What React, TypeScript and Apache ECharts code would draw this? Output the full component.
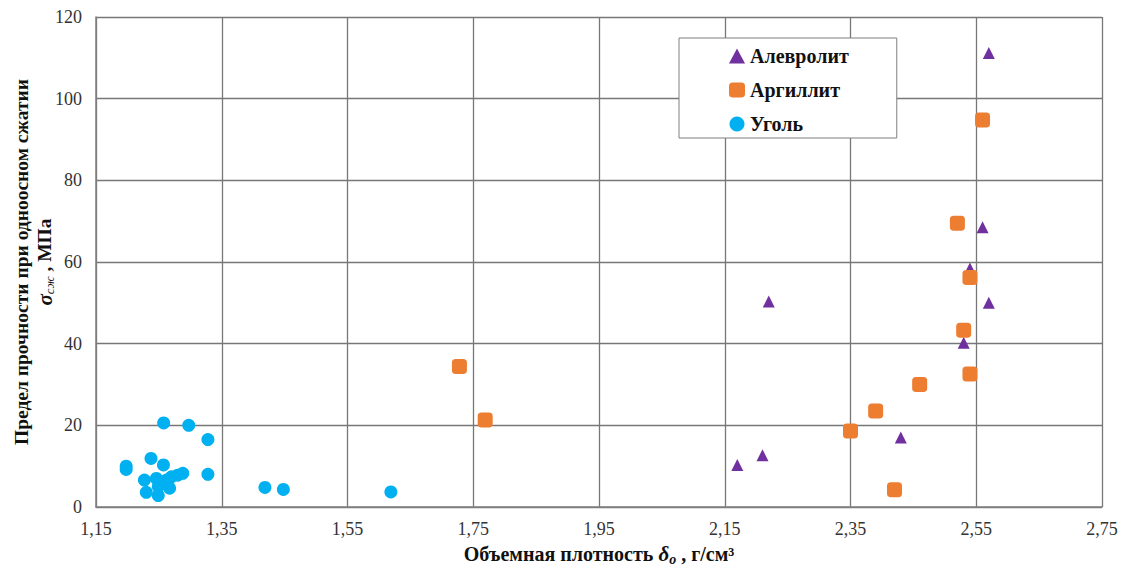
import React, { useEffect, useRef } from "react";
import * as echarts from "echarts";

const xTicks = { min: 1.15, max: 2.75, interval: 0.2 };
const yTicks = { min: 0, max: 120, interval: 20 };

const seriesNames = ["Алевролит", "Аргиллит", "Уголь"];

const aleurolite: [number, number][] = [
  [2.22, 50.3], [2.17, 10.3], [2.21, 12.7], [2.43, 17.0], [2.53, 40.2],
  [2.54, 58.4], [2.57, 50.0], [2.56, 68.5], [2.57, 111.2],
];

const argillite: [number, number][] = [
  [1.728, 34.4], [1.769, 21.3], [2.35, 18.6], [2.39, 23.5], [2.42, 4.2],
  [2.46, 30.0], [2.53, 43.3], [2.54, 32.6], [2.54, 56.2], [2.52, 69.5], [2.56, 94.8],
];

const coal: [number, number][] = [
  [1.198, 10.0], [1.198, 9.2], [1.2375, 11.9], [1.2573, 10.3], [1.328, 8.0],
  [1.328, 16.5], [1.2576, 20.6], [1.2975, 20.0], [1.288, 8.25], [1.28, 7.8],
  [1.27, 7.4], [1.262, 6.6], [1.246, 7.0], [1.227, 6.6], [1.23, 3.6],
  [1.249, 2.8], [1.249, 5.0], [1.267, 4.6], [1.256, 5.8],
  [1.4187, 4.8], [1.448, 4.3], [1.619, 3.7],
];

const colors = ["#7030A0", "#ED7D31", "#00B0F0"];

const fmt = (v: number) => v.toFixed(2).replace(".", ",");

export default function App() {
  const ref = useRef<HTMLDivElement>(null);
  useEffect(() => {
    document.body.style.margin = "0";
    const chart = echarts.init(ref.current!, undefined, { renderer: "svg" });
    const font = "'Liberation Serif', 'Times New Roman', serif";
    chart.setOption({
      animation: false,
      backgroundColor: "#fff",
      textStyle: { fontFamily: font },
      grid: { left: 96, right: 20, top: 17, bottom: 65, outerBoundsMode: "none", containLabel: false },
      legend: {
        orient: "vertical",
        left: 679,
        top: 38,
        padding: [8, 48, 4, 50],
        itemGap: 14,
        itemWidth: 16,
        itemHeight: 15,
        backgroundColor: "#fff",
        borderColor: "#7f7f7f",
        borderWidth: 1,
        borderRadius: 0,
        textStyle: { fontFamily: font, fontSize: 20, fontWeight: "bold", color: "#111" },
        data: [
          { name: seriesNames[0], icon: "triangle", itemStyle: { color: colors[0], opacity: 1 } },
          { name: seriesNames[1], icon: "roundRect", itemStyle: { color: colors[1], opacity: 1 } },
          { name: seriesNames[2], icon: "circle", itemStyle: { color: colors[2], opacity: 1 } },
        ],
      },
      xAxis: {
        type: "value",
        min: xTicks.min,
        max: xTicks.max,
        interval: xTicks.interval,
        name: "{b|Объемная плотность }{i|δ}{sub|o}{b| , г/см³}",
        nameLocation: "middle",
        nameGap: 35,
        nameMoveOverlap: false,
        nameTextStyle: {
          rich: {
            b: { fontFamily: font, fontSize: 20, fontWeight: "bold", color: "#111", lineHeight: 24 },
            i: { fontFamily: font, fontSize: 21, fontWeight: "bold", fontStyle: "italic", color: "#111", lineHeight: 24 },
            sub: { fontFamily: font, fontSize: 14, fontWeight: "bold", fontStyle: "italic", color: "#111", lineHeight: 14, verticalAlign: "bottom" },
          },
        },
        axisLine: { show: true, lineStyle: { color: "#7f7f7f", width: 1.5 } },
        axisTick: { show: false },
        axisLabel: { formatter: fmt, fontFamily: font, fontSize: 18, color: "#333", margin: 13 },
        splitLine: { show: true, lineStyle: { color: "#777", width: 1.3 } },
      },
      yAxis: {
        type: "value",
        min: yTicks.min,
        max: yTicks.max,
        interval: yTicks.interval,
        name: "{b|Предел прочности при одноосном сжатии}\n{i|σ}{sub|сж}{b| , МПа}",
        nameLocation: "middle",
        nameGap: 40,
        nameMoveOverlap: false,
        nameRotate: 90,
        nameTextStyle: {
          align: "center",
          rich: {
            b: { fontFamily: font, fontSize: 19.5, fontWeight: "bold", color: "#111", lineHeight: 23 },
            i: { fontFamily: font, fontSize: 21, fontWeight: "bold", fontStyle: "italic", color: "#111", lineHeight: 23 },
            sub: { fontFamily: font, fontSize: 13, fontStyle: "italic", color: "#111", lineHeight: 23, verticalAlign: "bottom" },
          },
        },
        axisLine: { show: true, lineStyle: { color: "#7f7f7f", width: 1.5 } },
        axisTick: { show: false },
        axisLabel: { fontFamily: font, fontSize: 18, color: "#333", margin: 14 },
        splitLine: { show: true, lineStyle: { color: "#777", width: 1.3 } },
      },
      series: [
        {
          name: seriesNames[0],
          type: "scatter",
          data: aleurolite,
          symbol: "triangle",
          symbolSize: 12,
          itemStyle: { color: colors[0], opacity: 1 },
        },
        {
          name: seriesNames[1],
          type: "scatter",
          data: argillite,
          symbol: "roundRect",
          symbolSize: 15,
          itemStyle: { color: colors[1], opacity: 1 },
        },
        {
          name: seriesNames[2],
          type: "scatter",
          data: coal,
          symbol: "circle",
          symbolSize: 13,
          itemStyle: { color: colors[2], opacity: 1 },
        },
      ],
    });
    return () => chart.dispose();
  }, []);
  return <div ref={ref} style={{ position: "absolute", left: 0, top: 0, width: 1122, height: 572 }} />;
}
